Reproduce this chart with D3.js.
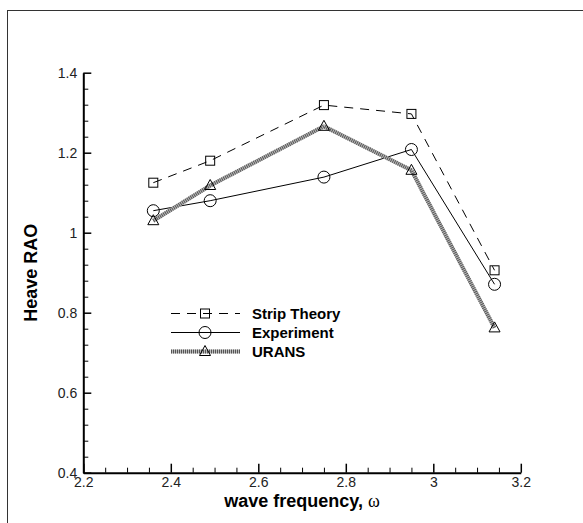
<!DOCTYPE html>
<html>
<head>
<meta charset="utf-8">
<script src="https://cdn.jsdelivr.net/npm/d3@7"></script>
<style>
  body { margin: 0; background: #fff; }
  svg { display: block; font-family: "Liberation Sans", Arial, sans-serif; }
</style>
</head>
<body>
<svg></svg>
<script>
const width = 583;
const height = 523;

// data
const freq = [2.36, 2.49, 2.75, 2.95, 3.14];
const stripTheory = [1.125, 1.18, 1.319, 1.297, 0.906];
const experiment = [1.055, 1.08, 1.139, 1.208, 0.871];
const urans = [1.03, 1.118, 1.266, 1.156, 0.762];
const seriesNames = ['Strip Theory', 'Experiment', 'URANS'];
const xTicks = [2.2, 2.4, 2.6, 2.8, 3, 3.2];
const yTicks = [0.4, 0.6, 0.8, 1, 1.2, 1.4];

const svg = d3.select('svg').attr('width', width).attr('height', height);

// outer frame (only left/top visible in the picture)
svg.append('rect')
    .attr('x', 7.5).attr('y', 10.5)
    .attr('width', width).attr('height', height)
    .style('fill', 'none').style('stroke', '#333').style('stroke-width', 1);

const x = d3.scaleLinear().domain([2.2, 3.2]).range([83.3, 520.8]);
const y = d3.scaleLinear().domain([0.4, 1.4]).range([472.7, 72.7]);

// minor ticks
svg.append('g')
    .attr('transform', `translate(0,${y(0.4)})`)
    .call(d3.axisBottom(x).tickValues(d3.range(2.25, 3.2, 0.05).filter(v => Math.abs(v * 5 - Math.round(v * 5)) > 1e-6)).tickSize(-5).tickFormat(''))
    .call(g => g.select('.domain').remove());
svg.append('g')
    .attr('transform', `translate(${x(2.2)},0)`)
    .call(d3.axisLeft(y).tickValues(d3.range(0.44, 1.4, 0.04).filter(v => Math.abs(v * 5 - Math.round(v * 5)) > 1e-6)).tickSize(-5).tickFormat(''))
    .call(g => g.select('.domain').remove());

// major axes
const xAxis = svg.append('g')
    .attr('transform', `translate(0,${y(0.4)})`)
    .call(d3.axisBottom(x).tickValues(xTicks).tickSize(-9).tickSizeOuter(0).tickPadding(4).tickFormat(d3.format('~g')));
const yAxis = svg.append('g')
    .attr('transform', `translate(${x(2.2)},0)`)
    .call(d3.axisLeft(y).tickValues(yTicks).tickSize(-8).tickSizeOuter(0).tickPadding(6).tickFormat(d3.format('~g')));

[xAxis, yAxis].forEach(g => {
    g.select('.domain').style('stroke', '#000').style('stroke-width', 2);
    g.selectAll('.tick line').style('stroke', '#000').style('stroke-width', 1.5);
    g.selectAll('text').style('font-size', '14px').style('fill', '#222').style('font-family', '"Liberation Sans", Arial, sans-serif');
});
svg.selectAll('.tick line').style('stroke', '#000');

// axis titles
svg.append('text')
    .attr('transform', `translate(37,${y(0.9)}) rotate(-90)`)
    .attr('text-anchor', 'middle')
    .style('font-size', '18px').style('font-weight', 'bold')
    .text('Heave RAO');

const xt = svg.append('text')
    .attr('x', x(2.7)).attr('y', 507)
    .attr('text-anchor', 'middle')
    .style('font-size', '18px').style('font-weight', 'bold');
xt.append('tspan').text('wave frequency, ');
xt.append('tspan').style('font-family', '"Liberation Serif", "Times New Roman", serif').style('font-weight', 'normal').text('ω');

const line = d3.line().x((d, i) => x(freq[i])).y(d => y(d));

// symbols
function square(g, cx, cy) {
    g.append('rect').attr('x', cx - 4.5).attr('y', cy - 4.5).attr('width', 9).attr('height', 9)
        .style('fill', 'none').style('stroke', '#000').style('stroke-width', 1);
}
function circle(g, cx, cy) {
    g.append('circle').attr('cx', cx).attr('cy', cy).attr('r', 6)
        .style('fill', 'none').style('stroke', '#000').style('stroke-width', 1);
}
function triangle(g, cx, cy) {
    g.append('path').attr('d', `M${cx - 5.5},${cy + 4} L${cx + 5.5},${cy + 4} L${cx},${cy - 6} Z`)
        .style('fill', 'none').style('stroke', '#000').style('stroke-width', 1);
}

// URANS hatched thick line
function hatched(g, d) {
    g.append('path').attr('d', d).style('fill', 'none').style('stroke', '#bbb').style('stroke-width', 4);
    g.append('path').attr('d', d).style('fill', 'none').style('stroke', '#555').style('stroke-width', 4).style('stroke-dasharray', '1,1');
}

const plot = svg.append('g');

// Strip theory
plot.append('path').attr('d', line(stripTheory))
    .style('fill', 'none').style('stroke', '#000').style('stroke-width', 1).style('stroke-dasharray', '9,7');
stripTheory.forEach((v, i) => square(plot, x(freq[i]), y(v)));

// Experiment
plot.append('path').attr('d', line(experiment))
    .style('fill', 'none').style('stroke', '#000').style('stroke-width', 1);
experiment.forEach((v, i) => circle(plot, x(freq[i]), y(v)));

// URANS
hatched(plot, line(urans));
urans.forEach((v, i) => triangle(plot, x(freq[i]), y(v)));

// legend
const legend = svg.append('g');
const legY = [313.5, 332.5, 351.5];
const lx0 = 171, lx1 = 240, lsym = 205, ltext = 252;
seriesNames.forEach((name, i) => {
    const yy = legY[i];
    const d = `M${lx0},${yy} L${lx1},${yy}`;
    if (i === 0) {
        legend.append('path').attr('d', d).style('stroke', '#000').style('stroke-width', 1).style('stroke-dasharray', '9,7');
        square(legend, lsym, yy);
    } else if (i === 1) {
        legend.append('path').attr('d', d).style('stroke', '#000').style('stroke-width', 1);
        circle(legend, lsym, yy);
    } else {
        hatched(legend, d);
        triangle(legend, lsym, yy);
    }
    legend.append('text')
        .attr('x', ltext).attr('y', yy).attr('dy', '0.36em')
        .style('font-size', '15px').style('font-weight', 'bold')
        .text(name);
});
</script>
</body>
</html>
